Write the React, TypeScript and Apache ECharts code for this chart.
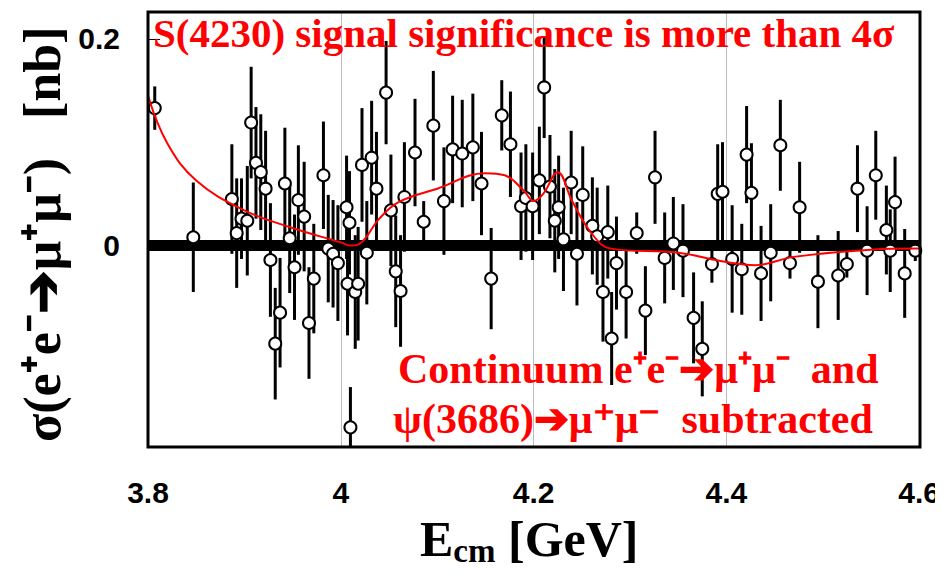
import React, { useEffect, useRef } from 'react'
import * as echarts from 'echarts'

// 数据点 (E_cm [GeV], σ [nb], 误差)
const energies = [
  3.807, 3.847, 3.887, 3.892, 3.897, 3.903, 3.907, 3.912, 3.917, 3.922, 3.927, 3.932, 3.937, 3.942,
  3.947, 3.952, 3.956, 3.962, 3.967, 3.972, 3.982, 3.987, 3.992, 3.997, 4.006, 4.007, 4.009, 4.010,
  4.015, 4.018, 4.022, 4.027, 4.032, 4.037, 4.047, 4.052, 4.057, 4.062, 4.066, 4.077, 4.086, 4.096,
  4.107, 4.116, 4.126, 4.137, 4.146, 4.156, 4.167, 4.176, 4.187, 4.192, 4.199, 4.206, 4.211, 4.217,
  4.222, 4.226, 4.231, 4.239, 4.245, 4.251, 4.261, 4.266, 4.272, 4.277, 4.281, 4.286, 4.296, 4.307,
  4.316, 4.326, 4.336, 4.345, 4.355, 4.366, 4.375, 4.385, 4.391, 4.396, 4.406, 4.416, 4.421, 4.426,
  4.436, 4.446, 4.456, 4.466, 4.476, 4.495, 4.516, 4.525, 4.536, 4.546, 4.555, 4.566, 4.570, 4.575,
  4.585, 4.596,
]
const sigmas = [
  0.133, 0.008, 0.045, 0.012, 0.026, 0.024, 0.119, 0.080, 0.071, 0.055, -0.014, -0.095, -0.065, 0.060,
  0.007, -0.021, 0.044, 0.028, -0.075, -0.032, 0.068, -0.003, -0.008, -0.017, 0.037, -0.037, 0.022, -0.176,
  -0.045, -0.037, 0.078, -0.007, 0.085, 0.055, 0.148, 0.034, -0.025, -0.044, 0.047, 0.090, 0.023, 0.116,
  0.043, 0.093, 0.089, 0.095, 0.060, -0.032, 0.126, 0.098, 0.038, 0.046, 0.038, 0.063, 0.153, 0.057,
  0.024, 0.037, 0.006, 0.061, -0.008, 0.049, 0.019, 0.009, -0.045, 0.013, -0.090, -0.017, -0.045, 0.012,
  -0.063, 0.066, -0.012, 0.002, -0.005, -0.070, -0.100, -0.018, 0.050, 0.052, -0.013, -0.023, 0.088, 0.051,
  -0.027, -0.007, 0.097, -0.017, 0.037, -0.035, -0.029, -0.018, 0.055, -0.005, 0.068, 0.015, -0.005, 0.042,
  -0.027, -0.005,
]
const errors = [
  0.021, 0.053, 0.053, 0.053, 0.039, 0.053, 0.054, 0.054, 0.056, 0.056, 0.055, 0.054, 0.053, 0.054,
  0.053, 0.051, 0.053, 0.053, 0.054, 0.053, 0.052, 0.052, 0.052, 0.056, 0.050, 0.050, 0.050, 0.039,
  0.055, 0.055, 0.055, 0.050, 0.055, 0.055, 0.050, 0.054, 0.054, 0.054, 0.053, 0.052, 0.020, 0.053,
  0.052, 0.052, 0.052, 0.052, 0.050, 0.049, 0.034, 0.051, 0.052, 0.052, 0.052, 0.052, 0.049, 0.050,
  0.050, 0.050, 0.050, 0.050, 0.050, 0.047, 0.047, 0.047, 0.048, 0.045, 0.045, 0.045, 0.045, 0.020,
  0.043, 0.045, 0.044, 0.045, 0.045, 0.044, 0.046, 0.018, 0.048, 0.048, 0.052, 0.044, 0.047, 0.048,
  0.046, 0.047, 0.044, 0.015, 0.044, 0.045, 0.043, 0.013, 0.042, 0.043, 0.043, 0.043, 0.040, 0.044,
  0.043, 0.010,
]

// 拟合曲线
const fitE = [
  3.8, 3.82, 3.85, 3.9, 3.95, 4.0, 4.01, 4.02, 4.04, 4.06, 4.1, 4.15, 4.17, 4.19, 4.2, 4.21,
  4.225, 4.24, 4.26, 4.28, 4.35, 4.4, 4.43, 4.47, 4.55, 4.6,
]
const fitSigma = [
  0.145, 0.099, 0.063, 0.034, 0.017, 0.003, 0.0, 0.002, 0.026, 0.042, 0.055, 0.07, 0.068, 0.053,
  0.043, 0.05, 0.071, 0.043, 0.012, -0.003, -0.007, -0.016, -0.019, -0.011, -0.004, -0.003,
]

const xTicks = [3.8, 4.0, 4.2, 4.4, 4.6]
const yTicks = [0, 0.2]

const App: React.FC = () => {
  const chartRef = useRef<HTMLDivElement>(null)

  useEffect(() => {
    if (!chartRef.current) return
    const chart = echarts.init(chartRef.current, null, { renderer: 'svg' })

    const points = energies.map((e, i) => [e, sigmas[i], errors[i]])
    const serif = 'Liberation Serif'
    const sans = 'Liberation Sans'
    const redText = (size: number) => ({
      fill: '#f00',
      fontFamily: serif,
      fontWeight: 'bold',
      fontSize: size,
    })

    chart.setOption({
      animation: false,
      backgroundColor: '#fff',
      grid: { left: 148, right: 23, top: 12, bottom: 127 },
      xAxis: {
        type: 'value',
        min: 3.8,
        max: 4.6,
        interval: 0.2,
        axisLine: { show: false },
        axisTick: { show: false },
        axisLabel: {
          color: '#000',
          fontFamily: sans,
          fontWeight: 'bold',
          fontSize: 30,
          margin: 30,
          formatter: (v: number) => {
            const t = xTicks.find((x) => Math.abs(x - v) < 1e-6)
            return t === undefined ? '' : String(Number(t.toFixed(1)))
          },
        },
        splitLine: { show: true, lineStyle: { color: '#bbb', width: 1 } },
      },
      yAxis: {
        type: 'value',
        min: -0.195,
        max: 0.226,
        axisLine: { show: false },
        axisTick: { show: true, inside: true, length: 12, customValues: yTicks, lineStyle: { color: '#000', width: 1 } },
        axisLabel: {
          customValues: yTicks,
          color: '#000',
          fontFamily: sans,
          fontWeight: 'bold',
          fontSize: 30,
          margin: 28,
          formatter: (v: number) => (Math.abs(v) < 1e-6 ? '0' : String(v)),
        },
        splitLine: { show: false },
      },
      graphic: [
        {
          type: 'rect',
          shape: { x: 148, y: 12, width: 772, height: 435 },
          style: { fill: 'none', stroke: '#000', lineWidth: 3 },
          z: 100,
        },
        {
          type: 'text',
          left: 153,
          top: 12,
          style: { text: 'S(4230) signal significance is more than 4σ', ...redText(41) },
          z: 110,
        },
        {
          type: 'text',
          left: 398,
          top: 348,
          style: { text: 'Continuum e⁺e⁻➔μ⁺μ⁻  and', ...redText(42) },
          z: 110,
        },
        {
          type: 'text',
          left: 393,
          top: 398,
          style: { text: 'ψ(3686)➔μ⁺μ⁻  subtracted', ...redText(42) },
          z: 110,
        },
        {
          type: 'text',
          left: 420,
          top: 514,
          style: {
            text: '{a|E}{b|cm}{a| [GeV]}',
            rich: {
              a: { fontFamily: serif, fontWeight: 'bold', fontSize: 50, fill: '#000' },
              b: { fontFamily: serif, fontWeight: 'bold', fontSize: 33, fill: '#000', padding: [24, 0, 0, 0] },
            },
          },
        },
        {
          type: 'text',
          x: 16,
          y: 442,
          rotation: Math.PI / 2,
          style: { text: 'σ(e⁺e⁻➔μ⁺μ⁻)   [nb]', fill: '#000', fontFamily: serif, fontWeight: 'bold', fontSize: 52 },
        },
      ],
      series: [
        {
          type: 'line',
          data: [
            [3.8, 0],
            [4.6, 0],
          ],
          symbol: 'none',
          lineStyle: { color: '#000', width: 11 },
          z: 1,
        },
        {
          type: 'custom',
          data: points,
          clip: true,
          renderItem: (params: any, api: any) => {
            const x = api.value(0)
            const y = api.value(1)
            const e = api.value(2)
            const p1 = api.coord([x, y + e])
            const p2 = api.coord([x, Math.max(y - e, -0.195)])
            return {
              type: 'line',
              shape: { x1: p1[0], y1: p1[1], x2: p2[0], y2: p2[1] },
              style: { stroke: '#000', lineWidth: 3 },
            }
          },
          z: 2,
        },
        {
          type: 'scatter',
          data: points.map((p) => [p[0], p[1]]),
          symbol: 'circle',
          symbolSize: 12,
          itemStyle: { color: '#fff', borderColor: '#000', borderWidth: 2, opacity: 1 },
          z: 3,
        },
        {
          type: 'line',
          data: fitE.map((e, i) => [e, fitSigma[i]]),
          smooth: 0.4,
          symbol: 'none',
          lineStyle: { color: '#f00', width: 2 },
          z: 4,
        },
      ],
    })

    return () => chart.dispose()
  }, [])

  return <div ref={chartRef} style={{ width: 943, height: 574, margin: -8 }} />
}

export default App
